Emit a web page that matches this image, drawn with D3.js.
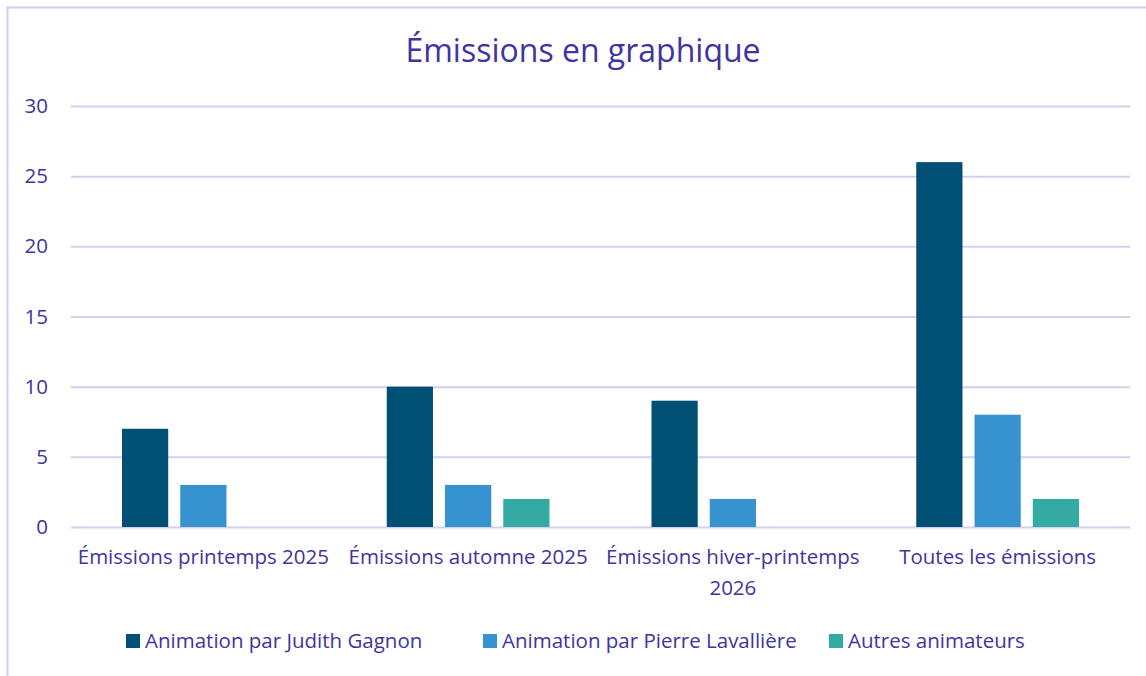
<!DOCTYPE html>
<html>
<head>
<meta charset="utf-8">
<script src="https://cdn.jsdelivr.net/npm/d3@7"></script>
<style>
body { margin: 0; background: #fff; }
svg text { font-family: "Open Sans", Lato, sans-serif; fill: #4034a0; }
</style>
</head>
<body>
<svg id="chart"></svg>
<script>
var categories = [["Émissions printemps 2025"], ["Émissions automne 2025"], ["Émissions hiver-printemps", "2026"], ["Toutes les émissions"]];
var series = ["Animation par Judith Gagnon", "Animation par Pierre Lavallière", "Autres animateurs"];
var judith = [7, 10, 9, 26];
var pierre = [3, 3, 2, 8];
var autres = [0, 2, 0, 2];
var yTicks = [0, 5, 10, 15, 20, 25, 30];
var colors = ["#004f74", "#3793d0", "#34aba2"];

var width = 1146, height = 676;
var plotLeft = 71, plotRight = 1130, plotTop = 106, plotBottom = 527;

var svg = d3.select("#chart").attr("width", width).attr("height", height);

// cadre
svg.append("rect").attr("x", 7.5).attr("y", 7.5).attr("width", 1150).attr("height", 700)
	.attr("fill", "none").attr("stroke", "#d0cef0").attr("stroke-width", 2);

svg.append("text").attr("x", 583).attr("y", 62).attr("text-anchor", "middle")
	.style("font-size", "32px").text("Émissions en graphique");

var x = d3.scaleBand().domain(d3.range(categories.length)).range([plotLeft, plotRight]);
var y = d3.scaleLinear().domain([0, 30]).range([plotBottom, plotTop]);
var xs = d3.scaleBand().domain(d3.range(series.length)).range([51, x.bandwidth() - 51]).paddingInner(12 / 58);

var yAxis = svg.append("g").attr("transform", "translate(" + plotLeft + ",0)")
	.call(d3.axisLeft(y).tickValues(yTicks).tickSize(-(plotRight - plotLeft)).tickPadding(23));
yAxis.select(".domain").remove();
yAxis.selectAll("line").attr("stroke", "#d3cff0").attr("stroke-width", 2);
yAxis.selectAll("text").style("font-size", "20.5px").attr("fill", "#4034a0");

var data = [judith, pierre, autres];
data.forEach(function(vals, s) {
	var pts = vals.map(function(v, i) { return { cat: i, v: v }; }).filter(function(d) { return d.v > 0; });
	svg.append("g").selectAll("rect").data(pts).enter().append("rect")
		.attr("x", function(d) { return x(d.cat) + xs(s); })
		.attr("y", function(d) { return y(d.v); })
		.attr("width", xs.bandwidth())
		.attr("height", function(d) { return y(0) - y(d.v); })
		.attr("fill", colors[s]);
});

var catLabels = svg.append("g").selectAll("text").data(categories).enter().append("text")
	.attr("x", function(d, i) { return x(i) + x.bandwidth() / 2; })
	.attr("y", 564).attr("text-anchor", "middle").style("font-size", "20.5px");
catLabels.selectAll("tspan").data(function(d) { return d; }).enter().append("tspan")
	.attr("x", function() { return d3.select(this.parentNode).attr("x"); })
	.attr("dy", function(d, i) { return i ? 31 : 0; })
	.text(function(d) { return d; });

var legendX = [126, 483, 829];
var legend = svg.append("g").selectAll("g").data(series).enter().append("g")
	.attr("transform", function(d, i) { return "translate(" + legendX[i] + ",634)"; });
legend.append("rect").attr("width", 14).attr("height", 14).attr("fill", function(d, i) { return colors[i]; });
legend.append("text").attr("x", 19).attr("y", 14).style("font-size", "20.5px").text(function(d) { return d; });
</script>
</body>
</html>
